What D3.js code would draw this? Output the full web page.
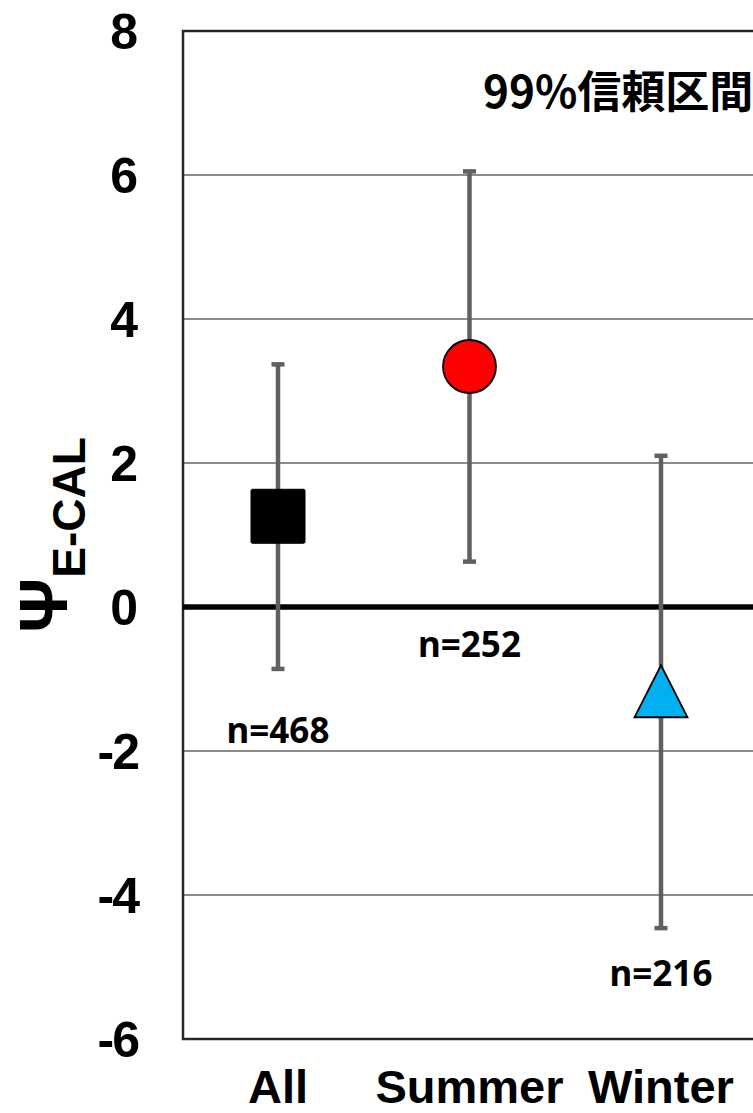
<!DOCTYPE html>
<html><head><meta charset="utf-8">
<script src="https://cdn.jsdelivr.net/npm/d3@7"></script>
<style>body{margin:0;background:#fff}svg{display:block}</style>
</head><body>
<script>
const categories = ["All", "Summer", "Winter"];
const means = [1.26, 3.34, -1.17];
const upper = [3.37, 6.05, 2.10];
const lower = [-0.86, 0.63, -4.46];
const nLabels = ["n=468", "n=252", "n=216"];
const nLabelY = [-1.72, -0.53, -5.1];
const markerShapes = ["square", "circle", "triangle"];
const markerColors = ["#000000", "#ff0000", "#00b0f0"];
const yTicks = [-6, -4, -2, 0, 2, 4, 6, 8];
const gridTicks = [-4, -2, 2, 4, 6];
const annotation = "99%信頼区間";

const W = 753, H = 1113;
const svg = d3.select("body").append("svg").attr("width", W).attr("height", H);

const y = d3.scaleLinear().domain([-6, 8]).range([1039, 31]);
const x = d3.scalePoint().domain(categories).range([278, 661]);
const left = 183;

// gridlines
svg.append("g").selectAll("line").data(gridTicks).join("line")
  .attr("x1", left).attr("x2", W + 10)
  .attr("y1", d => y(d)).attr("y2", d => y(d))
  .attr("stroke", "#8c8c8c").attr("stroke-width", 2);

// frame
svg.append("rect").attr("x", left).attr("y", y(8)).attr("width", 700).attr("height", y(-6) - y(8))
  .attr("fill", "none").attr("stroke", "#262626").attr("stroke-width", 2.5);

// zero line
svg.append("line").attr("x1", left).attr("x2", W + 10).attr("y1", y(0)).attr("y2", y(0))
  .attr("stroke", "#000").attr("stroke-width", 5.5);

// y tick labels
svg.append("g").selectAll("text").data(yTicks).join("text")
  .attr("x", 138).attr("y", d => y(d)).attr("dy", "0.36em")
  .attr("text-anchor", "end")
  .attr("font-family", "Liberation Sans, Arial, sans-serif").attr("font-weight", "bold")
  .attr("font-size", 50).attr("letter-spacing", d => d < 0 ? -2 : 0)
  .attr("fill", "#000").text(d => d);

// x labels
svg.append("g").selectAll("text").data(categories).join("text")
  .attr("x", d => x(d)).attr("y", 1103).attr("text-anchor", "middle")
  .attr("font-family", "Liberation Sans, Arial, sans-serif").attr("font-weight", "bold")
  .attr("font-size", 47).attr("fill", "#000").text(d => d);

// axis title
const title = svg.append("text")
  .attr("transform", "translate(67,535) rotate(-90)")
  .attr("text-anchor", "middle")
  .attr("font-family", "Liberation Sans, Arial, sans-serif").attr("font-weight", "bold")
  .attr("fill", "#000");
title.append("tspan").attr("font-size", 68).text("Ψ");
title.append("tspan").attr("font-size", 46).attr("dy", 18).text("E-CAL");

// error bars
const eb = svg.append("g").selectAll("g").data(categories).join("g");
eb.append("line").attr("x1", d => x(d)).attr("x2", d => x(d))
  .attr("y1", (d, i) => y(upper[i])).attr("y2", (d, i) => y(lower[i]))
  .attr("stroke", "#606060").attr("stroke-width", 4.5);
eb.append("line").attr("x1", d => x(d) - 6.5).attr("x2", d => x(d) + 6.5)
  .attr("y1", (d, i) => y(upper[i])).attr("y2", (d, i) => y(upper[i]))
  .attr("stroke", "#606060").attr("stroke-width", 4.5);
eb.append("line").attr("x1", d => x(d) - 6.5).attr("x2", d => x(d) + 6.5)
  .attr("y1", (d, i) => y(lower[i])).attr("y2", (d, i) => y(lower[i]))
  .attr("stroke", "#606060").attr("stroke-width", 4.5);

// markers
const mk = svg.append("g");
categories.forEach((c, i) => {
  const cx = x(c), cy = y(means[i]);
  if (markerShapes[i] === "square") {
    mk.append("rect").attr("x", cx - 27).attr("y", cy - 27).attr("width", 54).attr("height", 54)
      .attr("rx", 1.5).attr("fill", markerColors[i]).attr("stroke", "#000").attr("stroke-width", 1);
  } else if (markerShapes[i] === "circle") {
    mk.append("circle").attr("cx", cx).attr("cy", cy).attr("r", 26.5)
      .attr("fill", markerColors[i]).attr("stroke", "#000").attr("stroke-width", 1.8);
  } else {
    const h = 52, w = 53;
    mk.append("path")
      .attr("d", `M${cx},${cy - h / 2}L${cx + w / 2},${cy + h / 2}L${cx - w / 2},${cy + h / 2}Z`)
      .attr("fill", markerColors[i]).attr("stroke", "#000").attr("stroke-width", 1.8)
      .attr("stroke-linejoin", "miter");
  }
});

// n labels
svg.append("g").selectAll("text").data(categories).join("text")
  .attr("x", d => x(d)).attr("y", (d, i) => y(nLabelY[i])).attr("dy", "0.35em")
  .attr("text-anchor", "middle")
  .attr("font-family", "Noto Sans, Open Sans, sans-serif").attr("font-weight", "bold")
  .attr("font-size", 35).attr("fill", "#000").text((d, i) => nLabels[i]);

// annotation
svg.append("text").attr("x", 483).attr("y", 108)
  .attr("font-family", "Noto Sans CJK JP, sans-serif").attr("font-weight", "bold")
  .attr("font-size", 44).attr("fill", "#000").text(annotation);
</script>
</body></html>
